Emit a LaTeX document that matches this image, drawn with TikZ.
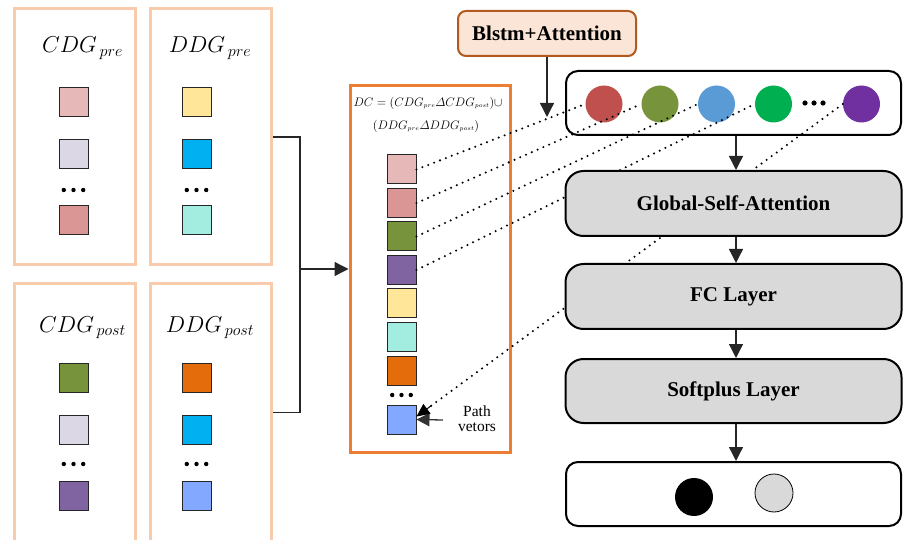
\RequirePackage{fix-cm}
\documentclass[tikz,border=0pt]{standalone}
\usepackage{amsmath}
\usepackage{fontspec}
\setmainfont{Liberation Serif}
\usetikzlibrary{arrows.meta}
\definecolor{grpc}{HTML}{F8CBAD}
\definecolor{midc}{HTML}{ED7D31}
\definecolor{blc}{HTML}{B05A1E}
\definecolor{blfill}{HTML}{FBE5D6}
\definecolor{layg}{HTML}{D9D9D9}
\definecolor{cA}{HTML}{E6B9B8}
\definecolor{cB}{HTML}{DCD7E5}
\definecolor{cC}{HTML}{D99694}
\definecolor{cD}{HTML}{FFE699}
\definecolor{cE}{HTML}{00B0F0}
\definecolor{cF}{HTML}{A3ECE0}
\definecolor{cG}{HTML}{77933C}
\definecolor{cH}{HTML}{8064A2}
\definecolor{cI}{HTML}{E46C0A}
\definecolor{cJ}{HTML}{82A9FF}
\definecolor{kA}{HTML}{C0504D}
\definecolor{kB}{HTML}{77933C}
\definecolor{kC}{HTML}{5B9BD5}
\definecolor{kD}{HTML}{00B050}
\definecolor{kE}{HTML}{7030A0}
\begin{document}
\begin{tikzpicture}[x=1pt,y=-1pt,
 grp/.style={draw=grpc,line width=3pt,minimum width=121pt,inner sep=0pt},
 sqr/.style={draw=black!85,line width=1pt,minimum size=29pt,inner sep=0pt},
 glab/.style={anchor=base,font=\fontsize{23}{27}\selectfont},
 dotl/.style={line width=2.3pt,line cap=round,dash pattern=on 0pt off 6.3pt},
 arr/.style={line width=1.3pt,draw=black!85,-{Triangle[length=14pt,width=14pt]}},
 layerbox/.style={draw,line width=2pt,rounded corners=18pt,fill=layg,minimum width=336pt,minimum height=65pt,inner sep=0pt,font=\fontsize{21}{25}\selectfont\bfseries},
 bub/.style={circle,minimum size=37pt,inner sep=0pt},
 ftxt/.style={font=\fontsize{12.3}{15}\selectfont,inner sep=0pt},
]
\useasboundingbox (0,0) rectangle (903,540);

% left group boxes
\node[grp,minimum height=256pt] (cdgpre) at (75,137) {};
\node[grp,minimum height=256pt] (ddgpre) at (211,137) {};
\node[grp,minimum height=257pt] (cdgpost) at (75,412.5) {};
\node[grp,minimum height=257pt] (ddgpost) at (211,412.5) {};

\node[glab] (lcp) at (82.5,53) {$CDG_{\,pre}$};
\node[glab] (ldp) at (210,53) {$DDG_{\,pre}$};
\node[glab] (lcq) at (82.5,332) {$CDG_{\,post}$};
\node[glab] (ldq) at (210,332) {$DDG_{\,post}$};

\node[sqr,fill=cA] (p1) at (73.5,102.5) {};
\node[sqr,fill=cB] (p2) at (73.5,154.5) {};
\node[sqr,fill=cC] (p3) at (73.5,220.5) {};
\node[sqr,fill=cD] (q1) at (196.5,102.5) {};
\node[sqr,fill=cE] (q2) at (196.5,154.5) {};
\node[sqr,fill=cF] (q3) at (196.5,220.5) {};
\node[sqr,fill=cG] (r1) at (73.5,378) {};
\node[sqr,fill=cB] (r2) at (73.5,429.5) {};
\node[sqr,fill=cH] (r3) at (73.5,495.5) {};
\node[sqr,fill=cI] (s1) at (196.5,378) {};
\node[sqr,fill=cE] (s2) at (196.5,429.5) {};
\node[sqr,fill=cJ] (s3) at (196.5,495.5) {};
\foreach \d in {-9.7,0,9.7}{
  \fill (73.5+\d,190) circle (2.2pt);
  \fill (196.5+\d,190) circle (2.2pt);
  \fill (73.5+\d,464) circle (2.2pt);
  \fill (196.5+\d,464) circle (2.2pt);
}

% middle box
\node[draw=midc,line width=3pt,minimum width=160pt,minimum height=366pt,inner sep=0pt] (dc) at (430,269) {};
\node[ftxt] (f1) at (428,103) {$DC=(CDG_{\scriptscriptstyle pre}\varDelta CDG_{\scriptscriptstyle post})\cup$};
\node[ftxt] (f2) at (426,126) {$(DDG_{\scriptscriptstyle pre}\varDelta DDG_{\scriptscriptstyle post})$};
\node[sqr,fill=cA] (m1) at (401.5,169.5) {};
\node[sqr,fill=cC] (m2) at (401.5,203) {};
\node[sqr,fill=cG] (m3) at (401.5,236.5) {};
\node[sqr,fill=cH] (m4) at (401.5,270) {};
\node[sqr,fill=cD] (m5) at (401.5,303.5) {};
\node[sqr,fill=cF] (m6) at (401.5,337) {};
\node[sqr,fill=cI] (m7) at (401.5,370.5) {};
\node[sqr,fill=cJ] (m8) at (401.5,419.5) {};
\foreach \d in {-9.3,0,9.3}{ \fill (401.5+\d,395) circle (2.2pt); }
\node[font=\fontsize{15.5}{15}\selectfont,align=center,inner sep=0pt] (pv) at (477,419) {Path\\vetors};
\coordinate (pvs) at (443,420);
\draw[line width=1.3pt,draw=black!80,-{Triangle[length=13pt,width=13pt]}] (pvs) -- (m8.east);

% bracket
\coordinate (bx) at (300,0);
\draw[line width=1.3pt,draw=black!85] (ddgpre.east) -- (ddgpre.east -| bx) -- (ddgpost.east -| bx) -- (ddgpost.east);
\draw[arr] (bx |- dc.west) -- (dc.west);

% Blstm
\node[draw=blc,fill=blfill,line width=2pt,rounded corners=8pt,minimum width=178pt,minimum height=45pt,font=\fontsize{21}{25}\selectfont\bfseries] (bl) at (547,33.5) {Blstm+Attention};

% circles box
\node[draw,line width=2pt,rounded corners=12pt,minimum width=335pt,minimum height=64pt] (cb) at (733.5,103) {};
\node[bub,fill=kA] (k1) at (604,104) {};
\node[bub,fill=kB] (k2) at (660,104) {};
\node[bub,fill=kC] (k3) at (716.5,104) {};
\node[bub,fill=kD] (k4) at (773.5,104) {};
\node[bub,fill=kE] (k5) at (861.5,104) {};
\foreach \d in {-9,0,9}{ \fill (814+\d,103) circle (2.6pt); }
\coordinate (bt) at (547,117);
\draw[arr] (bl.south) -- (bt);

% dotted links
\draw[dotl] (m1.east) -- (k1.west);
\draw[dotl] (m2.east) -- (k2.west);
\draw[dotl] (m3.east) -- (k3.west);
\draw[dotl] (m4.east) -- (k4.west);
\coordinate (pvend) at ([yshift=3pt]m8.east);
\draw[dotl] (k5.west) -- (pvend);
\path (k5.west) -- (pvend) coordinate[pos=0.965] (tipbase);
\draw[line width=1pt,-{Triangle[length=13pt,width=12pt]}] (tipbase) -- (pvend);

% layers
\node[layerbox] (gsa) at (733.5,203.5) {Global-Self-Attention};
\node[layerbox] (fc) at (733.5,296.5) {FC Layer};
\node[layerbox,minimum height=64pt] (sp) at (733.5,391) {Softplus Layer};
\node[draw,line width=2pt,rounded corners=12pt,minimum width=335pt,minimum height=64pt] (out) at (733.5,494) {};
\node[bub,fill=black,minimum size=38pt] (o1) at (694,497) {};
\node[bub,draw=black,line width=0.8pt,fill=layg,minimum size=38pt] (o2) at (774,493) {};

\coordinate (ax) at (736,0);
\draw[arr] (cb.south -| ax) -- (gsa.north -| ax);
\draw[arr] (gsa.south -| ax) -- (fc.north -| ax);
\draw[arr] (fc.south -| ax) -- (sp.north -| ax);
\draw[arr] (sp.south -| ax) -- (out.north -| ax);
\end{tikzpicture}
\end{document}
